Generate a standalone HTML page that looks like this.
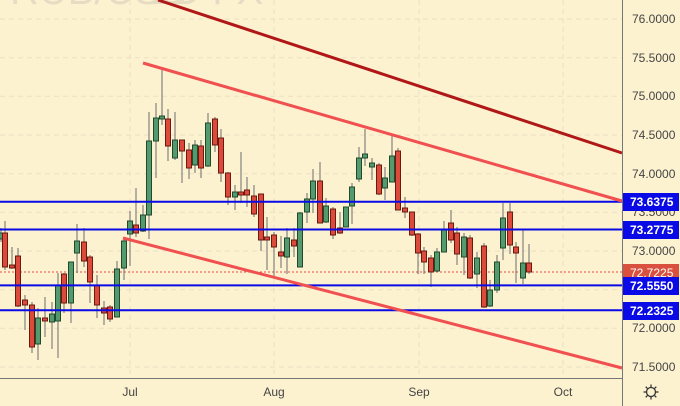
<!DOCTYPE html>
<html><head><meta charset="utf-8"><style>
html,body{margin:0;padding:0;background:#fdf2d0;}
svg{display:block;font-family:"Liberation Sans",sans-serif;}
.g{fill:#55996f;stroke:#1f4a2c;stroke-width:1}
.r{fill:#db4a3a;stroke:#6a1a10;stroke-width:1}
.w{stroke:#6c6c6c;stroke-width:1}
.grid{stroke:#e9dfc3;stroke-width:1;stroke-dasharray:5,4}
.ax{font-size:12px;fill:#444}
</style></head><body>
<svg width="680" height="406" viewBox="0 0 680 406">
<rect width="680" height="406" fill="#fdf2d0"/>
<text x="10" y="4" font-size="40" fill="#e6dcc4">RUB/USD</text>
<text x="150" y="4" font-size="40" fill="#e6dcc4">1D FX</text>
<g class="grid">
<line x1="0" y1="19" x2="622" y2="19"/><line x1="0" y1="57.7" x2="622" y2="57.7"/><line x1="0" y1="96.3" x2="622" y2="96.3"/><line x1="0" y1="135" x2="622" y2="135"/><line x1="0" y1="173.7" x2="622" y2="173.7"/><line x1="0" y1="212.3" x2="622" y2="212.3"/><line x1="0" y1="251" x2="622" y2="251"/><line x1="0" y1="289.7" x2="622" y2="289.7"/><line x1="0" y1="328.3" x2="622" y2="328.3"/><line x1="0" y1="367" x2="622" y2="367"/>
<line x1="130" y1="0" x2="130" y2="378"/><line x1="274" y1="0" x2="274" y2="378"/><line x1="419" y1="0" x2="419" y2="378"/><line x1="563" y1="0" x2="563" y2="378"/>
</g>
<line x1="0" y1="272" x2="622" y2="272" stroke="#e05040" stroke-width="1" stroke-dasharray="2,2"/>
<g id="c">
<line class="w" x1="1" y1="228" x2="1" y2="242"/><rect class="g" x="-1.5" y="233" width="5" height="6"/>
<line class="w" x1="5" y1="221" x2="5" y2="270"/><rect class="r" x="2.5" y="233" width="5" height="34"/>
<line class="w" x1="12" y1="247" x2="12" y2="269"/><rect class="r" x="9.5" y="265" width="5" height="3"/>
<line class="w" x1="18" y1="248" x2="18" y2="307"/><rect class="r" x="15.5" y="256" width="5" height="50"/>
<line class="w" x1="25" y1="295" x2="25" y2="330"/><rect class="r" x="22.5" y="300" width="5" height="5"/>
<line class="w" x1="32" y1="302" x2="32" y2="353"/><rect class="r" x="29.5" y="305" width="5" height="42"/>
<line class="w" x1="38" y1="308" x2="38" y2="360"/><rect class="g" x="35.5" y="318" width="5" height="26"/>
<line class="w" x1="45" y1="297" x2="45" y2="337"/><rect class="r" x="42.5" y="318" width="5" height="3"/>
<line class="w" x1="52" y1="302" x2="52" y2="349"/><rect class="g" x="49.5" y="314" width="5" height="8"/>
<line class="w" x1="58" y1="273" x2="58" y2="358"/><rect class="g" x="55.5" y="285" width="5" height="36"/>
<line class="w" x1="64" y1="273" x2="64" y2="313"/><rect class="r" x="61.5" y="274" width="5" height="29"/>
<line class="w" x1="71" y1="262" x2="71" y2="323"/><rect class="g" x="68.5" y="262" width="5" height="41"/>
<line class="w" x1="77" y1="224" x2="77" y2="273"/><rect class="g" x="74.5" y="241" width="5" height="12"/>
<line class="w" x1="84" y1="228" x2="84" y2="267"/><rect class="r" x="81.5" y="242" width="5" height="19"/>
<line class="w" x1="90" y1="255" x2="90" y2="303"/><rect class="r" x="87.5" y="257" width="5" height="25"/>
<line class="w" x1="97" y1="275" x2="97" y2="318"/><rect class="r" x="94.5" y="285" width="5" height="20"/>
<line class="w" x1="104" y1="301" x2="104" y2="325"/><rect class="r" x="101.5" y="308" width="5" height="5"/>
<line class="w" x1="110" y1="305" x2="110" y2="322"/><rect class="r" x="107.5" y="307" width="5" height="12"/>
<line class="w" x1="117" y1="261" x2="117" y2="317"/><rect class="g" x="114.5" y="269" width="5" height="48"/>
<line class="w" x1="124" y1="238" x2="124" y2="280"/><rect class="g" x="121.5" y="241" width="5" height="27"/>
<line class="w" x1="130" y1="211" x2="130" y2="266"/><rect class="g" x="127.5" y="221" width="5" height="13"/>
<line class="w" x1="136" y1="188" x2="136" y2="237"/><rect class="r" x="133.5" y="225" width="5" height="8"/>
<line class="w" x1="143" y1="205" x2="143" y2="232"/><rect class="g" x="140.5" y="215" width="5" height="16"/>
<line class="w" x1="149" y1="112" x2="149" y2="239"/><rect class="g" x="146.5" y="141" width="5" height="74"/>
<line class="w" x1="156" y1="103" x2="156" y2="178"/><rect class="g" x="153.5" y="118" width="5" height="23"/>
<line class="w" x1="162" y1="70" x2="162" y2="125"/><rect class="g" x="159.5" y="116" width="5" height="3"/>
<line class="w" x1="168" y1="109" x2="168" y2="161"/><rect class="r" x="165.5" y="119" width="5" height="27"/>
<line class="w" x1="175" y1="112" x2="175" y2="160"/><rect class="g" x="172.5" y="140" width="5" height="18"/>
<line class="w" x1="182" y1="140" x2="182" y2="183"/><rect class="r" x="179.5" y="140" width="5" height="11"/>
<line class="w" x1="189" y1="143" x2="189" y2="179"/><rect class="r" x="186.5" y="150" width="5" height="18"/>
<line class="w" x1="195" y1="140" x2="195" y2="173"/><rect class="g" x="192.5" y="145" width="5" height="20"/>
<line class="w" x1="201" y1="140" x2="201" y2="178"/><rect class="r" x="198.5" y="146" width="5" height="22"/>
<line class="w" x1="208" y1="113" x2="208" y2="167"/><rect class="g" x="205.5" y="123" width="5" height="43"/>
<line class="w" x1="215" y1="117" x2="215" y2="152"/><rect class="r" x="212.5" y="119" width="5" height="26"/>
<line class="w" x1="221" y1="129" x2="221" y2="182"/><rect class="r" x="218.5" y="138" width="5" height="35"/>
<line class="w" x1="228" y1="172" x2="228" y2="205"/><rect class="r" x="225.5" y="173" width="5" height="24"/>
<line class="w" x1="235" y1="185" x2="235" y2="210"/><rect class="g" x="232.5" y="192" width="5" height="5"/>
<line class="w" x1="241" y1="152" x2="241" y2="203"/><rect class="r" x="238.5" y="192" width="5" height="3"/>
<line class="w" x1="247" y1="177" x2="247" y2="207"/><rect class="r" x="244.5" y="190" width="5" height="5"/>
<line class="w" x1="254" y1="185" x2="254" y2="217"/><rect class="r" x="251.5" y="196" width="5" height="18"/>
<line class="w" x1="261" y1="194" x2="261" y2="251"/><rect class="r" x="258.5" y="194" width="5" height="46"/>
<line class="w" x1="267" y1="217" x2="267" y2="270"/><rect class="r" x="264.5" y="237" width="5" height="3"/>
<line class="w" x1="274" y1="232" x2="274" y2="276"/><rect class="r" x="271.5" y="235" width="5" height="12"/>
<line class="w" x1="281" y1="236" x2="281" y2="268"/><rect class="r" x="278.5" y="252" width="5" height="4"/>
<line class="w" x1="287" y1="228" x2="287" y2="274"/><rect class="g" x="284.5" y="238" width="5" height="19"/>
<line class="w" x1="294" y1="228" x2="294" y2="257"/><rect class="r" x="291.5" y="240" width="5" height="6"/>
<line class="w" x1="300" y1="212" x2="300" y2="267"/><rect class="g" x="297.5" y="213" width="5" height="54"/>
<line class="w" x1="307" y1="193" x2="307" y2="223"/><rect class="g" x="304.5" y="199" width="5" height="13"/>
<line class="w" x1="313" y1="169" x2="313" y2="213"/><rect class="g" x="310.5" y="181" width="5" height="18"/>
<line class="w" x1="320" y1="162" x2="320" y2="223"/><rect class="r" x="317.5" y="181" width="5" height="42"/>
<line class="w" x1="326" y1="198" x2="326" y2="223"/><rect class="g" x="323.5" y="206" width="5" height="16"/>
<line class="w" x1="333" y1="207" x2="333" y2="239"/><rect class="r" x="330.5" y="209" width="5" height="26"/>
<line class="w" x1="340" y1="212" x2="340" y2="234"/><rect class="r" x="337.5" y="228" width="5" height="5"/>
<line class="w" x1="346" y1="207" x2="346" y2="227"/><rect class="g" x="343.5" y="207" width="5" height="20"/>
<line class="w" x1="352" y1="183" x2="352" y2="224"/><rect class="g" x="349.5" y="187" width="5" height="19"/>
<line class="w" x1="359" y1="147" x2="359" y2="182"/><rect class="g" x="356.5" y="158" width="5" height="21"/>
<line class="w" x1="365" y1="129" x2="365" y2="166"/><rect class="g" x="362.5" y="154" width="5" height="4"/>
<line class="w" x1="372" y1="158" x2="372" y2="180"/><rect class="g" x="369.5" y="163" width="5" height="4"/>
<line class="w" x1="379" y1="163" x2="379" y2="195"/><rect class="r" x="376.5" y="165" width="5" height="29"/>
<line class="w" x1="385" y1="167" x2="385" y2="200"/><rect class="g" x="382.5" y="178" width="5" height="10"/>
<line class="w" x1="392" y1="136" x2="392" y2="182"/><rect class="g" x="389.5" y="156" width="5" height="26"/>
<line class="w" x1="398" y1="148" x2="398" y2="210"/><rect class="r" x="395.5" y="151" width="5" height="59"/>
<line class="w" x1="405" y1="197" x2="405" y2="218"/><rect class="r" x="402.5" y="208" width="5" height="4"/>
<line class="w" x1="412" y1="212" x2="412" y2="236"/><rect class="r" x="409.5" y="212" width="5" height="23"/>
<line class="w" x1="418" y1="233" x2="418" y2="274"/><rect class="r" x="415.5" y="234" width="5" height="19"/>
<line class="w" x1="424" y1="247" x2="424" y2="274"/><rect class="r" x="421.5" y="251" width="5" height="11"/>
<line class="w" x1="431" y1="255" x2="431" y2="287"/><rect class="r" x="428.5" y="258" width="5" height="14"/>
<line class="w" x1="437" y1="248" x2="437" y2="272"/><rect class="g" x="434.5" y="252" width="5" height="19"/>
<line class="w" x1="444" y1="221" x2="444" y2="252"/><rect class="g" x="441.5" y="230" width="5" height="22"/>
<line class="w" x1="451" y1="210" x2="451" y2="243"/><rect class="r" x="448.5" y="223" width="5" height="17"/>
<line class="w" x1="457" y1="227" x2="457" y2="265"/><rect class="r" x="454.5" y="233" width="5" height="21"/>
<line class="w" x1="464" y1="233" x2="464" y2="275"/><rect class="g" x="461.5" y="237" width="5" height="20"/>
<line class="w" x1="470" y1="235" x2="470" y2="279"/><rect class="r" x="467.5" y="238" width="5" height="40"/>
<line class="w" x1="477" y1="252" x2="477" y2="288"/><rect class="g" x="474.5" y="258" width="5" height="16"/>
<line class="w" x1="484" y1="243" x2="484" y2="308"/><rect class="r" x="481.5" y="246" width="5" height="61"/>
<line class="w" x1="490" y1="280" x2="490" y2="307"/><rect class="g" x="487.5" y="290" width="5" height="16"/>
<line class="w" x1="497" y1="255" x2="497" y2="293"/><rect class="g" x="494.5" y="262" width="5" height="28"/>
<line class="w" x1="503" y1="203" x2="503" y2="260"/><rect class="g" x="500.5" y="218" width="5" height="30"/>
<line class="w" x1="510" y1="203" x2="510" y2="254"/><rect class="r" x="507.5" y="212" width="5" height="33"/>
<line class="w" x1="516" y1="242" x2="516" y2="283"/><rect class="r" x="513.5" y="247" width="5" height="6"/>
<line class="w" x1="523" y1="230" x2="523" y2="284"/><rect class="g" x="520.5" y="263" width="5" height="15"/>
<line class="w" x1="529" y1="244" x2="529" y2="274"/><rect class="r" x="526.5" y="263" width="5" height="9"/>
</g>
<line x1="0" y1="201.7" x2="622" y2="201.7" stroke="#0a0ae6" stroke-width="2"/>
<line x1="0" y1="229.5" x2="622" y2="229.5" stroke="#0a0ae6" stroke-width="2"/>
<line x1="0" y1="285.4" x2="622" y2="285.4" stroke="#0a0ae6" stroke-width="2"/>
<line x1="0" y1="310.3" x2="622" y2="310.3" stroke="#0a0ae6" stroke-width="2"/>
<line x1="158" y1="0" x2="622" y2="153" stroke="#b01818" stroke-width="3"/>
<line x1="143" y1="63" x2="622" y2="201" stroke="#f05050" stroke-width="3"/>
<line x1="123" y1="238" x2="622" y2="368" stroke="#f05050" stroke-width="3"/>
<rect x="622" y="0" width="58" height="406" fill="#fdf2d0"/>
<rect x="0" y="378" width="622" height="28" fill="#fdf2d0"/>
<line x1="622.5" y1="0" x2="622.5" y2="406" stroke="#777" stroke-width="1"/>
<line x1="0" y1="378.5" x2="622" y2="378.5" stroke="#777" stroke-width="1"/>
<g class="ax">
<text x="632" y="23">76.0000</text><text x="632" y="62">75.5000</text><text x="632" y="100">75.0000</text><text x="632" y="139">74.5000</text><text x="632" y="178">74.0000</text><text x="632" y="216">73.5000</text><text x="632" y="255">73.0000</text><text x="632" y="332">72.0000</text><text x="632" y="371">71.5000</text>
<text x="130" y="396" text-anchor="middle">Jul</text><text x="274" y="396" text-anchor="middle">Aug</text><text x="419" y="396" text-anchor="middle">Sep</text><text x="563" y="396" text-anchor="middle">Oct</text>
</g>
<rect x="623" y="193" width="56" height="18" fill="#0a0ae6"/>
<rect x="623" y="221" width="56" height="18" fill="#0a0ae6"/>
<rect x="623" y="264" width="56" height="17" fill="#d9503f"/>
<rect x="623" y="277" width="56" height="18" fill="#0a0ae6"/>
<rect x="623" y="302" width="56" height="18" fill="#0a0ae6"/>
<g font-size="12" font-weight="bold" fill="#fff">
<text x="630" y="206">73.6375</text><text x="630" y="234">73.2775</text><text x="630" y="277" font-weight="normal">72.7225</text><text x="630" y="290">72.5550</text><text x="630" y="315">72.2325</text>
</g>
<g transform="translate(651,392)" stroke="#333" stroke-width="1.3" fill="none">
<circle r="4.5"/>
<line x1="0" y1="-7.5" x2="0" y2="-5"/><line x1="0" y1="5" x2="0" y2="7.5"/><line x1="-7.5" y1="0" x2="-5" y2="0"/><line x1="5" y1="0" x2="7.5" y2="0"/>
<line x1="-5.3" y1="-5.3" x2="-3.6" y2="-3.6"/><line x1="3.6" y1="3.6" x2="5.3" y2="5.3"/><line x1="-5.3" y1="5.3" x2="-3.6" y2="3.6"/><line x1="3.6" y1="-3.6" x2="5.3" y2="-5.3"/>
</g>
</svg>
</body></html>
